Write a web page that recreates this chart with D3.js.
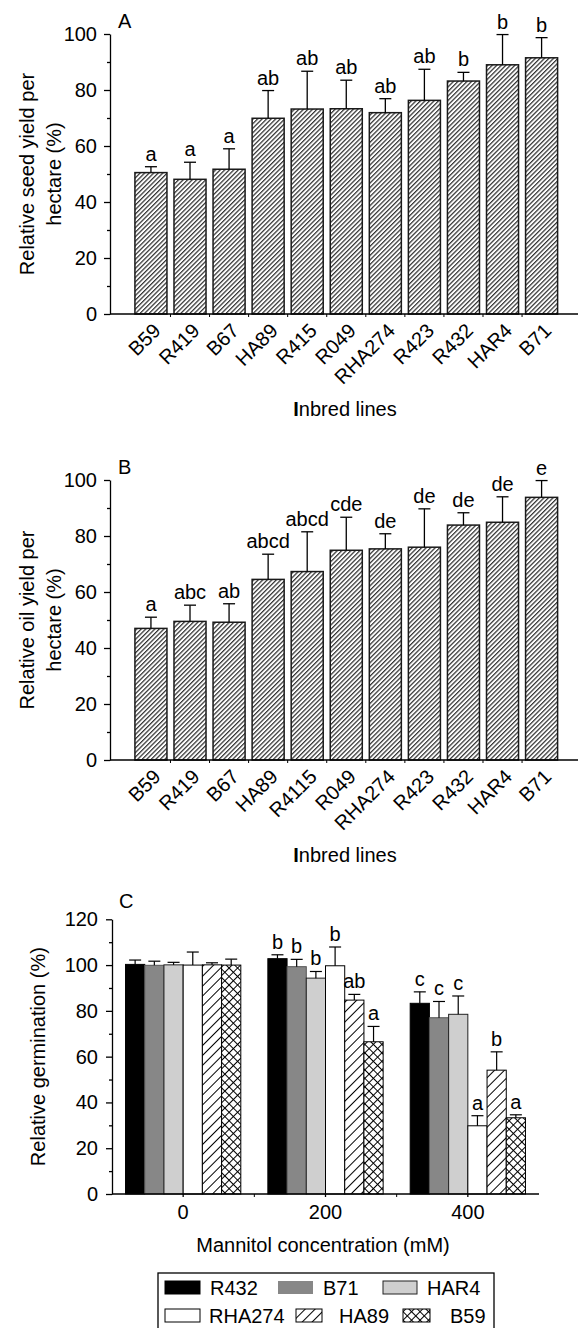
<!DOCTYPE html>
<meta charset="utf-8">
<head>
<style>
body { margin: 0; background: #fff; }
svg { display: block; font-family: "Liberation Sans", Arial, sans-serif; }
.axis path, .axis line { stroke: #000; stroke-width: 1.3px; }
.axis text { font-size: 20px; fill: #000; font-family: "Liberation Sans", Arial, sans-serif; }
.lbl { font-size: 20px; fill: #000; }
</style>
<script src="https://d3js.org/d3.v7.min.js"></script>
<title>Relative yield and germination</title>
</head>
<body>
<script>

// panel A: seed yield
var linesA = ["B59","R419","B67","HA89","R415","R049","RHA274","R423","R432","HAR4","B71"];
var seedYield = [50.5, 48.1, 51.7, 69.9, 73.2, 73.3, 71.9, 76.3, 83.2, 89.0, 91.5];
var seedErr = [2.1, 6.1, 7.3, 9.9, 13.5, 10.2, 5.0, 11.1, 3.1, 10.8, 7.2];
var seedLetters = ["a","a","a","ab","ab","ab","ab","ab","b","b","b"];

// panel B: oil yield
var linesB = ["B59","R419","B67","HA89","R4115","R049","RHA274","R423","R432","HAR4","B71"];
var oilYield = [47.0, 49.5, 49.2, 64.5, 67.3, 74.9, 75.4, 76.0, 83.9, 84.9, 93.8];
var oilErr = [4.0, 5.8, 6.6, 9.0, 14.2, 11.8, 5.4, 13.7, 4.4, 9.1, 6.0];
var oilLetters = ["a","abc","ab","abcd","abcd","cde","de","de","de","de","e"];

// panel C: germination under mannitol
var concentrations = ["0","200","400"];
var germLines = ["R432","B71","HAR4","RHA274","HA89","B59"];
var germ0 = [100.3, 99.9, 100.1, 100.0, 100.1, 100.0];
var germ200 = [102.8, 99.3, 94.3, 99.7, 84.7, 66.5];
var germ400 = [83.3, 77.0, 78.5, 29.8, 54.1, 33.3];
var err0 = [1.9, 1.8, 1.1, 5.7, 0.9, 2.6];
var err200 = [1.7, 3.2, 2.9, 8.2, 2.5, 6.7];
var err400 = [5.0, 7.1, 8.0, 4.4, 8.0, 1.3];
var letters0 = ["","","","","",""];
var letters200 = ["b","b","b","b","ab","a"];
var letters400 = ["c","c","c","a","b","a"];

var yTicksAB = [0, 20, 40, 60, 80, 100];
var yTicksC = [0, 20, 40, 60, 80, 100, 120];

var svg = d3.select("body").append("svg")
    .attr("width", 579)
    .attr("height", 1328);

var defs = svg.append("defs");

// fine hatch for panels A and B
var pFine = defs.append("pattern")
    .attr("id", "fineHatch")
    .attr("patternUnits", "userSpaceOnUse")
    .attr("width", 3.2).attr("height", 3.2)
    .attr("patternTransform", "rotate(45)");
pFine.append("rect").attr("width", 3.2).attr("height", 3.2).attr("fill", "#fff");
pFine.append("line").attr("x1", 0.6).attr("y1", 0).attr("x2", 0.6).attr("y2", 3.2)
    .attr("stroke", "#333").attr("stroke-width", 1.3);

// wide hatch and cross hatch for panel C
var pWide = defs.append("pattern")
    .attr("id", "wideHatch")
    .attr("patternUnits", "userSpaceOnUse")
    .attr("width", 7).attr("height", 7)
    .attr("patternTransform", "rotate(45)");
pWide.append("rect").attr("width", 7).attr("height", 7).attr("fill", "#fff");
pWide.append("line").attr("x1", 0.5).attr("y1", 0).attr("x2", 0.5).attr("y2", 7)
    .attr("stroke", "#000").attr("stroke-width", 1);

var pCross = defs.append("pattern")
    .attr("id", "crossHatch")
    .attr("patternUnits", "userSpaceOnUse")
    .attr("width", 6).attr("height", 6)
    .attr("patternTransform", "rotate(45)");
pCross.append("rect").attr("width", 6).attr("height", 6).attr("fill", "#fff");
pCross.append("line").attr("x1", 0.5).attr("y1", 0).attr("x2", 0.5).attr("y2", 6)
    .attr("stroke", "#000").attr("stroke-width", 1);
pCross.append("line").attr("x1", 0).attr("y1", 0.5).attr("x2", 6).attr("y2", 0.5)
    .attr("stroke", "#000").attr("stroke-width", 1);

var lineFill = {
  "R432": "#000",
  "B71": "#878787",
  "HAR4": "#cfcfcf",
  "RHA274": "#fff",
  "HA89": "url(#wideHatch)",
  "B59": "url(#crossHatch)"
};
var lineStroke = {
  "R432": "#000", "B71": "#555", "HAR4": "#222",
  "RHA274": "#000", "HA89": "#000", "B59": "#000"
};

function yAxisLeft(g, y, ticks, xPos, pad) {
  var minor = [];
  for (var i = 0; i < ticks.length - 1; i++) minor.push((ticks[i] + ticks[i + 1]) / 2);
  g.append("g")
      .attr("class", "axis")
      .attr("transform", "translate(" + xPos + ",0)")
      .call(d3.axisLeft(y).tickValues(ticks).tickSize(6).tickSizeOuter(0).tickPadding(pad));
  g.append("g")
      .attr("class", "axis")
      .attr("transform", "translate(" + xPos + ",0)")
      .call(d3.axisLeft(y).tickValues(minor).tickSize(3).tickFormat(""))
      .select(".domain").remove();
}

function drawYield(cfg) {
  var g = svg.append("g");
  var y = d3.scaleLinear().domain([0, 100]).range([cfg.y0, cfg.y0 - 280]);
  var x = d3.scaleBand().domain(cfg.cats).range([110, 578])
      .paddingInner(0.18).paddingOuter(0.58).align(0.55);

  // bars
  g.selectAll("rect.bar").data(cfg.values).enter().append("rect")
      .attr("x", function(d, i) { return x(cfg.cats[i]); })
      .attr("y", function(d) { return y(d); })
      .attr("width", x.bandwidth())
      .attr("height", function(d) { return y(0) - y(d); })
      .attr("fill", "url(#fineHatch)")
      .attr("stroke", "#1a1a1a")
      .attr("stroke-width", 1.5);

  // error bars (upper only)
  var eb = g.selectAll("g.err").data(cfg.values).enter().append("g");
  eb.append("line")
      .attr("x1", function(d, i) { return x(cfg.cats[i]) + x.bandwidth() / 2; })
      .attr("x2", function(d, i) { return x(cfg.cats[i]) + x.bandwidth() / 2; })
      .attr("y1", function(d) { return y(d); })
      .attr("y2", function(d, i) { return y(d + cfg.errs[i]); })
      .attr("stroke", "#000").attr("stroke-width", 1.3);
  eb.append("line")
      .attr("x1", function(d, i) { return x(cfg.cats[i]) + x.bandwidth() / 2 - 6; })
      .attr("x2", function(d, i) { return x(cfg.cats[i]) + x.bandwidth() / 2 + 6; })
      .attr("y1", function(d, i) { return y(d + cfg.errs[i]); })
      .attr("y2", function(d, i) { return y(d + cfg.errs[i]); })
      .attr("stroke", "#000").attr("stroke-width", 1.3);

  // significance letters
  g.selectAll("text.sig").data(cfg.letters).enter().append("text")
      .attr("class", "lbl")
      .attr("text-anchor", "middle")
      .attr("x", function(d, i) { return x(cfg.cats[i]) + x.bandwidth() / 2; })
      .attr("y", function(d, i) { return y(cfg.values[i] + cfg.errs[i]) - 6; })
      .text(function(d) { return d; });

  // y axis
  yAxisLeft(g, y, yTicksAB, 110, 7);

  // x axis line and small ticks between bars
  g.append("line")
      .attr("x1", 110).attr("x2", 578)
      .attr("y1", y(0)).attr("y2", y(0))
      .attr("stroke", "#000").attr("stroke-width", 1.3);
  var gap = x.step() * x.paddingInner() / 2;
  g.selectAll("line.xt").data(cfg.cats.slice(1)).enter().append("line")
      .attr("x1", function(d) { return x(d) - gap; })
      .attr("x2", function(d) { return x(d) - gap; })
      .attr("y1", y(0)).attr("y2", y(0) + 3)
      .attr("stroke", "#000").attr("stroke-width", 1);

  // rotated category labels
  g.selectAll("text.cat").data(cfg.cats).enter().append("text")
      .attr("class", "lbl")
      .attr("text-anchor", "end")
      .attr("dy", "0.35em")
      .attr("transform", function(d) {
        return "translate(" + (x(d) + x.bandwidth() / 2 + 6) + "," + (y(0) + 13) + ") rotate(-45)";
      })
      .text(function(d) { return d; });

  // x title
  var xt = g.append("text")
      .attr("class", "lbl")
      .attr("text-anchor", "middle")
      .attr("x", 345)
      .attr("y", y(0) + 102);
  xt.append("tspan").attr("font-weight", "bold").text("I");
  xt.append("tspan").text("nbred lines");

  // y title (two lines)
  var cy = (y(0) + y(100)) / 2;
  g.append("text")
      .attr("class", "lbl")
      .attr("text-anchor", "middle")
      .attr("dy", "0.35em")
      .attr("transform", "translate(27," + cy + ") rotate(-90)")
      .text(cfg.yTitle[0]);
  g.append("text")
      .attr("class", "lbl")
      .attr("text-anchor", "middle")
      .attr("dy", "0.35em")
      .attr("transform", "translate(54," + cy + ") rotate(-90)")
      .text(cfg.yTitle[1]);

  // panel letter
  g.append("text")
      .attr("class", "lbl")
      .attr("x", 118)
      .attr("y", cfg.y0 - 286)
      .text(cfg.panel);
}

drawYield({
  panel: "A", y0: 314, cats: linesA, values: seedYield, errs: seedErr,
  letters: seedLetters, yTitle: ["Relative seed yield per", "hectare (%)"]
});
drawYield({
  panel: "B", y0: 760, cats: linesB, values: oilYield, errs: oilErr,
  letters: oilLetters, yTitle: ["Relative oil yield per", "hectare (%)"]
});

// ---- panel C ----
var germ = [germ0, germ200, germ400];
var germErr = [err0, err200, err400];
var germLetters = [letters0, letters200, letters400];

var gc = svg.append("g");
var yC = d3.scaleLinear().domain([0, 120]).range([1194, 919.3]);
var x0 = d3.scaleBand().domain(concentrations).range([112, 539])
    .paddingInner(0.19).paddingOuter(0.095);
var x1 = d3.scaleBand().domain(germLines).range([0, x0.bandwidth()]);

var table = [];
concentrations.forEach(function(c, ci) {
  germLines.forEach(function(l, li) {
    table.push({conc: c, line: l, v: germ[ci][li], e: germErr[ci][li], s: germLetters[ci][li]});
  });
});

gc.selectAll("rect.gb").data(table).enter().append("rect")
    .attr("x", function(d) { return x0(d.conc) + x1(d.line); })
    .attr("y", function(d) { return yC(d.v); })
    .attr("width", x1.bandwidth())
    .attr("height", function(d) { return yC(0) - yC(d.v); })
    .attr("fill", function(d) { return lineFill[d.line]; })
    .attr("stroke", function(d) { return lineStroke[d.line]; })
    .attr("stroke-width", 1);

var ebC = gc.selectAll("g.ec").data(table).enter().append("g");
ebC.append("line")
    .attr("x1", function(d) { return x0(d.conc) + x1(d.line) + x1.bandwidth() / 2; })
    .attr("x2", function(d) { return x0(d.conc) + x1(d.line) + x1.bandwidth() / 2; })
    .attr("y1", function(d) { return yC(d.v); })
    .attr("y2", function(d) { return yC(d.v + d.e); })
    .attr("stroke", "#000").attr("stroke-width", 1.2);
ebC.append("line")
    .attr("x1", function(d) { return x0(d.conc) + x1(d.line) + x1.bandwidth() / 2 - 6; })
    .attr("x2", function(d) { return x0(d.conc) + x1(d.line) + x1.bandwidth() / 2 + 6; })
    .attr("y1", function(d) { return yC(d.v + d.e); })
    .attr("y2", function(d) { return yC(d.v + d.e); })
    .attr("stroke", "#000").attr("stroke-width", 1.2);

gc.selectAll("text.gs").data(table).enter().append("text")
    .attr("class", "lbl")
    .attr("text-anchor", "middle")
    .attr("x", function(d) { return x0(d.conc) + x1(d.line) + x1.bandwidth() / 2; })
    .attr("y", function(d) { return yC(d.v + d.e) - 6; })
    .text(function(d) { return d.s; });

yAxisLeft(gc, yC, yTicksC, 112, 8);

gc.append("g")
    .attr("class", "axis")
    .attr("transform", "translate(0," + yC(0) + ")")
    .call(d3.axisBottom(x0).tickSize(3).tickSizeOuter(0).tickPadding(8))
    .select(".domain").remove();
gc.append("line")
    .attr("x1", 112).attr("x2", 539)
    .attr("y1", yC(0)).attr("y2", yC(0))
    .attr("stroke", "#000").attr("stroke-width", 1.3);
var gapC = x0.step() * x0.paddingInner() / 2;
gc.selectAll("line.ct").data(concentrations.slice(1)).enter().append("line")
    .attr("x1", function(d) { return x0(d) - gapC; })
    .attr("x2", function(d) { return x0(d) - gapC; })
    .attr("y1", yC(0)).attr("y2", yC(0) + 3)
    .attr("stroke", "#000").attr("stroke-width", 1);

gc.append("text")
    .attr("class", "lbl")
    .attr("text-anchor", "middle")
    .attr("x", 323)
    .attr("y", 1252)
    .text("Mannitol concentration (mM)");

gc.append("text")
    .attr("class", "lbl")
    .attr("text-anchor", "middle")
    .attr("dy", "0.35em")
    .attr("transform", "translate(38," + ((yC(0) + yC(120)) / 2) + ") rotate(-90)")
    .text("Relative germination (%)");

gc.append("text")
    .attr("class", "lbl")
    .attr("x", 119)
    .attr("y", 908)
    .text("C");

// ---- legend ----
var legendLayout = [
  {sx: 165, sy: 1281, sw: 35, tx: 210, ty: 1295},
  {sx: 278, sy: 1281, sw: 35, tx: 323, ty: 1295},
  {sx: 383, sy: 1281, sw: 34, tx: 427, ty: 1295},
  {sx: 165, sy: 1309, sw: 35, tx: 209, ty: 1323},
  {sx: 296, sy: 1309, sw: 26, tx: 339, ty: 1323},
  {sx: 403, sy: 1309, sw: 27, tx: 450, ty: 1323}
];
var lg = svg.append("g");
lg.append("rect")
    .attr("x", 158).attr("y", 1273)
    .attr("width", 336).attr("height", 62)
    .attr("fill", "none").attr("stroke", "#000").attr("stroke-width", 1.3);
lg.selectAll("rect.sw").data(germLines).enter().append("rect")
    .attr("x", function(d, i) { return legendLayout[i].sx; })
    .attr("y", function(d, i) { return legendLayout[i].sy; })
    .attr("width", function(d, i) { return legendLayout[i].sw; })
    .attr("height", 13)
    .attr("fill", function(d) { return lineFill[d]; })
    .attr("stroke", function(d) { return d === "B71" ? "none" : lineStroke[d]; })
    .attr("stroke-width", 1);
lg.selectAll("text.lt").data(germLines).enter().append("text")
    .attr("class", "lbl")
    .attr("x", function(d, i) { return legendLayout[i].tx; })
    .attr("y", function(d, i) { return legendLayout[i].ty; })
    .text(function(d) { return d; });

</script>
</body>
</html>
